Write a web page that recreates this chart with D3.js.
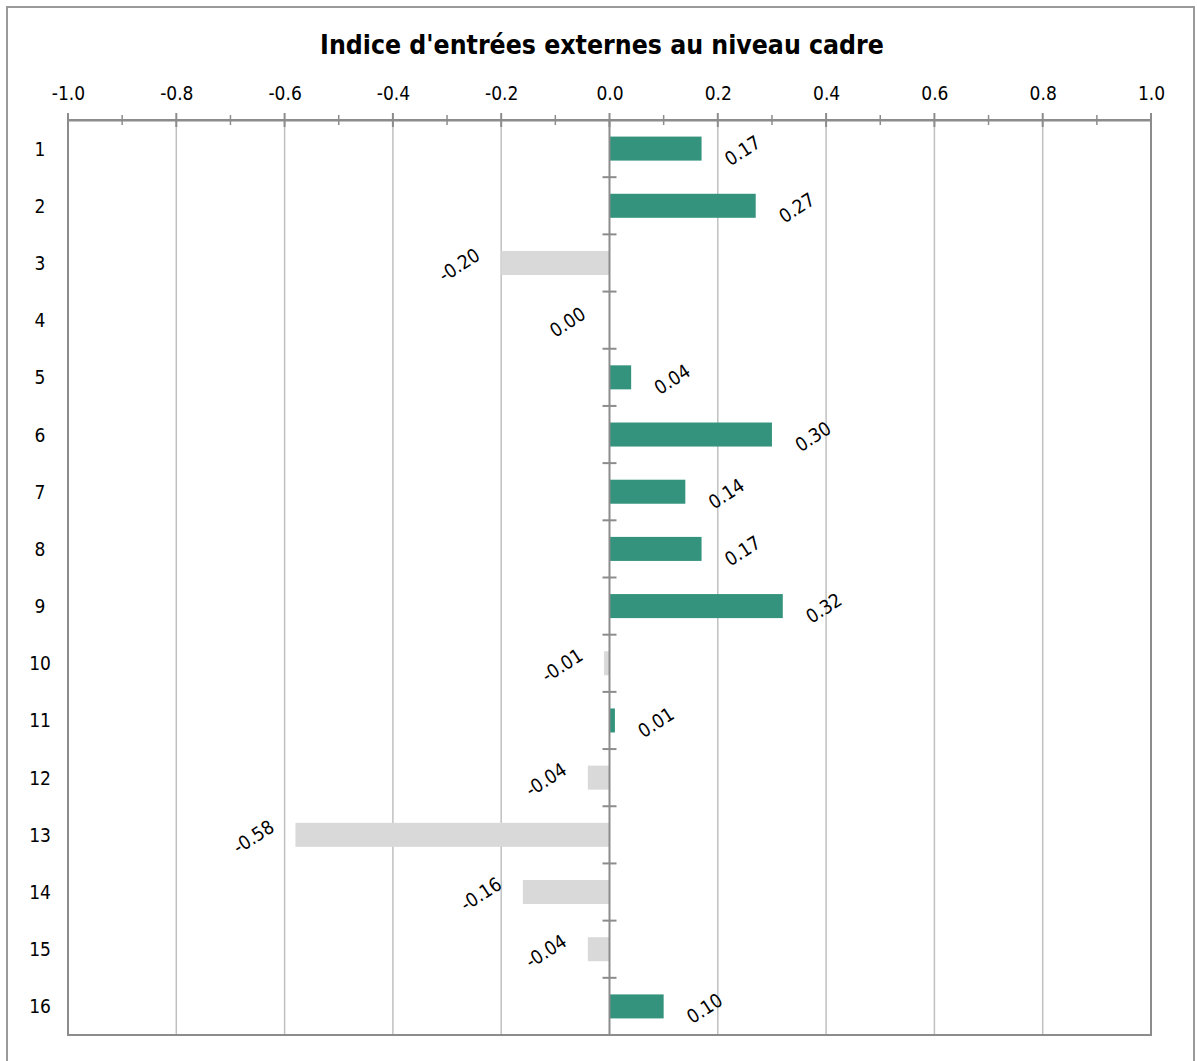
<!DOCTYPE html>
<html>
<head>
<meta charset="utf-8">
<script src="https://cdn.jsdelivr.net/npm/d3@7"></script>
<style>
  html, body { margin: 0; padding: 0; background: #fff; }
  svg { display: block; }
  text { font-family: "DejaVu Sans Condensed", "DejaVu Sans", Verdana, sans-serif; fill: #000; }
</style>
</head>
<body>
<svg id="chart" width="1197" height="1061"></svg>
<script>
// Category labels (rows, top to bottom) and the index value for each row
const categories = ["1","2","3","4","5","6","7","8","9","10","11","12","13","14","15","16"];
const values = [0.17, 0.27, -0.20, 0.00, 0.04, 0.30, 0.14, 0.17, 0.32, -0.01, 0.01, -0.04, -0.58, -0.16, -0.04, 0.10];
const valueLabels = ["0.17","0.27","-0.20","0.00","0.04","0.30","0.14","0.17","0.32","-0.01","0.01","-0.04","-0.58","-0.16","-0.04","0.10"];
const majorTicks = [-1.0, -0.8, -0.6, -0.4, -0.2, 0.0, 0.2, 0.4, 0.6, 0.8, 1.0];
const majorTickLabels = ["-1.0","-0.8","-0.6","-0.4","-0.2","0.0","0.2","0.4","0.6","0.8","1.0"];
const minorTicks = [-0.9, -0.7, -0.5, -0.3, -0.1, 0.1, 0.3, 0.5, 0.7, 0.9];
const titleText = "Indice d'entrées externes au niveau cadre";

const svg = d3.select("#chart");
const W = 1197, H = 1061;
const plot = { left: 68, right: 1151, top: 120, bottom: 1035 };

const posColor = "#33937c";
const negColor = "#d9d9d9";
const axisColor = "#8c8c8c";
const gridColor = "#c0c0c0";

// outer chart frame
svg.append("rect")
  .attr("x", 7).attr("y", 7)
  .attr("width", 1187).attr("height", H + 20)
  .attr("fill", "#fff")
  .attr("stroke", "#9a9a9a").attr("stroke-width", 2);

const x = d3.scaleLinear().domain([-1, 1]).range([plot.left, plot.right]);
const y = d3.scaleBand().domain(categories).range([plot.top, plot.bottom]).paddingInner(0.58).paddingOuter(0.29);
const yCat = d3.scaleBand().domain(categories).range([plot.top, plot.bottom]);

// title, fitted to its width
const title = svg.append("text")
  .attr("x", 602).attr("y", 54)
  .attr("text-anchor", "middle")
  .attr("font-size", 24).attr("font-weight", "bold")
  .text(titleText);
const tw = title.node().getComputedTextLength();
if (tw > 0) title.attr("font-size", 24 * 564 / tw);

// vertical gridlines
svg.append("g").selectAll("line")
  .data(majorTicks.filter(d => d !== 0 && Math.abs(d) !== 1))
  .join("line")
  .attr("x1", d => x(d)).attr("x2", d => x(d))
  .attr("y1", plot.top).attr("y2", plot.bottom)
  .attr("stroke", gridColor).attr("stroke-width", 1.5);

// plot area border
svg.append("rect")
  .attr("x", plot.left).attr("y", plot.top)
  .attr("width", plot.right - plot.left).attr("height", plot.bottom - plot.top)
  .attr("fill", "none").attr("stroke", axisColor).attr("stroke-width", 2);

// bars
svg.append("g").selectAll("rect")
  .data(values)
  .join("rect")
  .attr("x", d => x(Math.min(0, d)))
  .attr("width", d => Math.abs(x(d) - x(0)))
  .attr("y", (d, i) => y(categories[i]))
  .attr("height", y.bandwidth())
  .attr("fill", d => d >= 0 ? posColor : negColor);

// top value axis
const topAxis = d3.axisTop(x).tickValues(majorTicks).tickSize(0)
  .tickFormat((d, i) => majorTickLabels[i]);
const gTop = svg.append("g").attr("transform", `translate(0,${plot.top})`).call(topAxis);
gTop.select(".domain").attr("stroke", axisColor).attr("stroke-width", 2);
gTop.selectAll("text")
  .attr("font-size", 19)
  .attr("font-family", null)
  .attr("fill", "#000")
  .attr("y", -20);
gTop.attr("font-family", null);

// major and minor ticks crossing the top axis
svg.append("g").selectAll("line")
  .data(majorTicks)
  .join("line")
  .attr("x1", d => x(d)).attr("x2", d => x(d))
  .attr("y1", plot.top - 7).attr("y2", plot.top + 7)
  .attr("stroke", axisColor).attr("stroke-width", 2);
svg.append("g").selectAll("line")
  .data(minorTicks)
  .join("line")
  .attr("x1", d => x(d)).attr("x2", d => x(d))
  .attr("y1", plot.top - 5).attr("y2", plot.top + 5)
  .attr("stroke", axisColor).attr("stroke-width", 1.5);

// category axis at zero
svg.append("line")
  .attr("x1", x(0)).attr("x2", x(0))
  .attr("y1", plot.top).attr("y2", plot.bottom)
  .attr("stroke", axisColor).attr("stroke-width", 2);
svg.append("g").selectAll("line")
  .data(d3.range(categories.length + 1))
  .join("line")
  .attr("x1", x(0) - 7).attr("x2", x(0) + 7)
  .attr("y1", i => plot.top + i * yCat.step())
  .attr("y2", i => plot.top + i * yCat.step())
  .attr("stroke", axisColor).attr("stroke-width", 2);

// category labels on the left
svg.append("g").selectAll("text")
  .data(categories)
  .join("text")
  .attr("x", 40)
  .attr("y", d => yCat(d) + yCat.bandwidth() / 2 + 7)
  .attr("text-anchor", "middle")
  .attr("font-size", 19)
  .text(d => d);

// rotated value labels beyond the bar ends
svg.append("g").selectAll("text")
  .data(values)
  .join("text")
  .attr("transform", (d, i) => {
    const cx = x(d) + (d > 0 ? 41 : -42);
    const cy = yCat(categories[i]) + yCat.bandwidth() / 2 + 2;
    return `translate(${cx},${cy}) rotate(-33)`;
  })
  .attr("text-anchor", "middle")
  .attr("dy", "0.35em")
  .attr("font-size", 19)
  .text((d, i) => valueLabels[i]);
</script>
</body>
</html>
